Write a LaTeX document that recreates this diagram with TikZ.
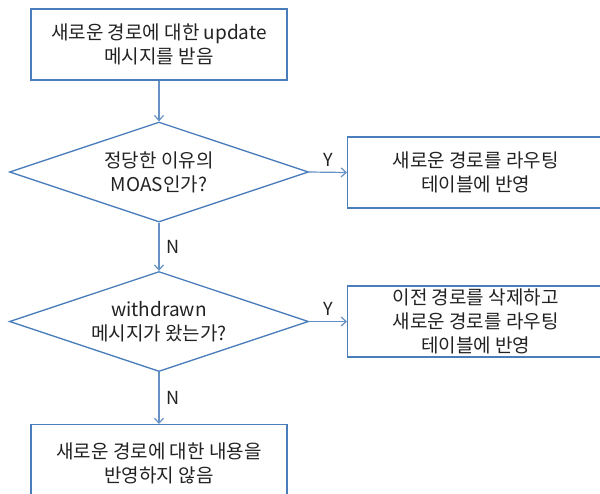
\documentclass[tikz,border=0pt]{standalone}
\usepackage{fontspec}
\setmainfont{Noto Sans CJK KR}
\usetikzlibrary{shapes.geometric,arrows.meta}
\definecolor{edge}{HTML}{4A7EBB}
\definecolor{txt}{HTML}{222222}
\tikzset{
  x=1pt,y=1pt,
  every node/.style={font=\fontsize{19}{24}\selectfont, text=txt},
  procbox/.style={draw=edge, line width=1.3pt, rectangle, align=center, inner sep=0pt},
  decision/.style={draw=edge, line width=1.3pt, diamond, align=center, inner sep=0pt, aspect=3,
    minimum width=299pt, minimum height=100pt},
  flow/.style={draw=edge!85, line width=1.2pt, -{Straight Barb[length=5pt,width=9pt,line width=1.2pt]}},
  lbl/.style={font=\fontsize{18}{20}\selectfont, text=txt}
}
\begin{document}
\begin{tikzpicture}
\useasboundingbox (0,0) rectangle (600,-493);
\clip (0,0) rectangle (600,-493);
\node[procbox, minimum width=256pt, minimum height=71pt] (b1) at (159,-44.5)
  {새로운 경로에 대한 update\\메시지를 받음};
\node[decision] (d1) at (159,-172) {정당한 이유의\\MOAS인가?};
\node[procbox, minimum width=256pt, minimum height=71pt, anchor=west] (b2) at (347,-172.5)
  {새로운 경로를 라우팅\\테이블에 반영};
\node[decision] (d2) at (159,-321.5) {withdrawn\\메시지가 왔는가?};
\node[procbox, minimum width=256pt, minimum height=71pt, anchor=west] (b3) at (347,-321.5)
  {이전 경로를 삭제하고\\새로운 경로를 라우팅\\테이블에 반영};
\node[procbox, minimum width=256pt, minimum height=77pt, anchor=north] (b4) at (159,-424)
  {새로운 경로에 대한 내용을\\반영하지 않음};
\draw[flow] (b1.south) -- (d1.north);
\draw[flow] (d1.east) -- node[lbl, above=2pt] {Y} (b2.west);
\draw[flow] (d1.south) -- node[lbl, right=4pt] {N} (d2.north);
\draw[flow] (d2.east) -- node[lbl, above=2pt] {Y} (b3.west);
\draw[flow] (d2.south) -- node[lbl, right=4pt] {N} (b4.north);
\end{tikzpicture}
\end{document}
